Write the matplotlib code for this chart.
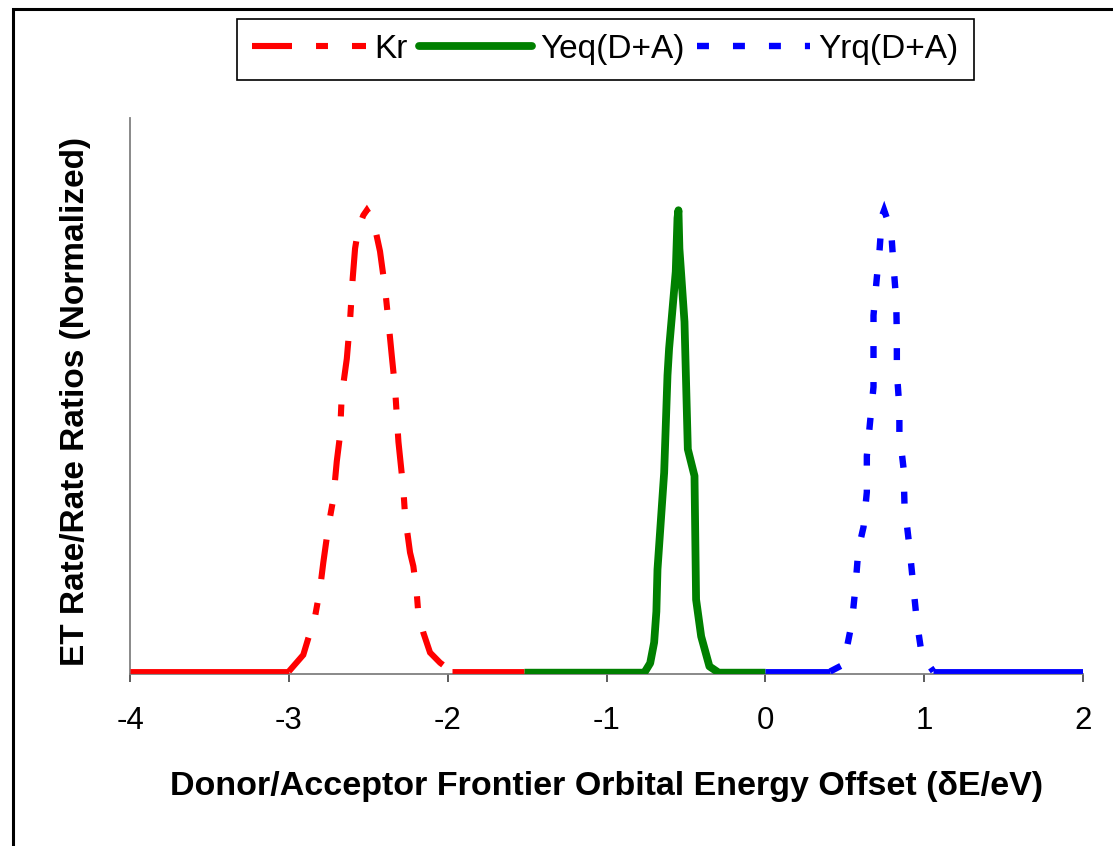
import matplotlib
matplotlib.use("Agg")
import matplotlib.pyplot as plt
from matplotlib.lines import Line2D
from matplotlib.patches import Rectangle

plt.rcParams['font.family'] = ['Liberation Sans', 'DejaVu Sans']
plt.rcParams['axes.unicode_minus'] = False
plt.rcParams['lines.scale_dashes'] = False

# ---- data (energy offset in eV, normalized rate) ----
kr_x = [-4.0, -3.0, -2.909, -2.867, -2.835, -2.804, -2.783, -2.751, -2.720, -2.698,
        -2.678, -2.667, -2.635, -2.615, -2.598, -2.583, -2.562, -2.531, -2.509,
        -2.468, -2.426, -2.394, -2.373, -2.352, -2.331, -2.310, -2.279, -2.268,
        -2.237, -2.216, -2.195, -2.185, -2.153, -2.111, -2.048, -1.974, -1.52]
kr_y = [0.0, 0.0, 0.036, 0.084, 0.119, 0.178, 0.236, 0.315, 0.374, 0.456,
        0.511, 0.598, 0.678, 0.759, 0.852, 0.917, 0.961, 0.989, 1.0,
        0.978, 0.911, 0.830, 0.759, 0.685, 0.613, 0.498, 0.395, 0.337,
        0.258, 0.228, 0.171, 0.127, 0.084, 0.041, 0.019, 0.0, 0.0]

yeq_x = [-1.52, -0.757, -0.725, -0.700, -0.686, -0.679, -0.637, -0.616, -0.606,
         -0.564, -0.553, -0.547, -0.541, -0.509, -0.488, -0.446, -0.436, -0.404,
         -0.352, -0.305, 0.0]
yeq_y = [0.0, 0.0, 0.018, 0.063, 0.130, 0.221, 0.431, 0.642, 0.700,
         0.867, 0.983, 1.0, 0.917, 0.758, 0.482, 0.424, 0.156, 0.076,
         0.011, 0.0, 0.0]

yrq_x = [0.0, 0.408, 0.492, 0.545, 0.566, 0.586, 0.618, 0.639, 0.639, 0.660,
         0.681, 0.681, 0.702, 0.719, 0.734, 0.748, 0.792, 0.807, 0.824, 0.828,
         0.828, 0.844, 0.844, 0.870, 0.876, 0.907, 0.932, 0.954, 0.985, 1.058, 2.0]
yrq_y = [0.0, 0.0, 0.015, 0.106, 0.178, 0.265, 0.313, 0.389, 0.467, 0.543,
         0.617, 0.772, 0.854, 0.913, 0.987, 1.0, 0.956, 0.880, 0.804, 0.728,
         0.650, 0.571, 0.519, 0.441, 0.363, 0.271, 0.184, 0.108, 0.036, 0.0, 0.0]

series_labels = ['Kr', 'Yeq(D+A)', 'Yrq(D+A)']
x_ticks = [-4, -3, -2, -1, 0, 1, 2]
x_tick_labels = ['-4', '-3', '-2', '-1', '0', '1', '2']

W, H = 1113, 846
fig = plt.figure(figsize=(W / 100, H / 100), dpi=100)
fig.patch.set_facecolor('white')

ax = fig.add_axes([130 / W, 1 - 674 / H, (1083 - 130) / W, (674 - 118) / H])
ax.set_xlim(-4, 2)
ax.set_ylim(-0.0055, 1.2)


def runs(x, y):
    """Split a polyline into consecutive runs lying on the baseline / off it."""
    out = []
    start = 0
    flag = None
    for k in range(len(x) - 1):
        f = (y[k] == 0 and y[k + 1] == 0)
        if flag is None:
            flag = f
        elif f != flag:
            out.append((flag, x[start:k + 1], y[start:k + 1]))
            start = k
            flag = f
    out.append((flag, x[start:], y[start:]))
    return out


def draw(x, y, color, lw, flat_lw, dashes=None, z=3):
    for flat, xs, ys in runs(x, y):
        if flat:
            ax.plot(xs, ys, color=color, lw=flat_lw, solid_capstyle='butt', zorder=z)
        elif dashes is None:
            ax.plot(xs, ys, color=color, lw=lw, solid_capstyle='round',
                    solid_joinstyle='round', zorder=z)
        else:
            ax.plot(xs, ys, color=color, lw=lw, dashes=dashes,
                    dash_capstyle='butt', dash_joinstyle='miter', zorder=z)


red_dash = (28.8, 17.3, 8.6, 17.3)
blue_dash = (8.6, 17.3)

draw(kr_x, kr_y, '#FF0000', 4.4, 3.5, red_dash, z=3)
draw(yeq_x, yeq_y, '#008000', 5.6, 3.9, None, z=4)
draw(yrq_x, yrq_y, '#0000FF', 4.6, 3.5, blue_dash, z=5)

# axes styling
for s in ['top', 'right']:
    ax.spines[s].set_visible(False)
for s in ['left', 'bottom']:
    ax.spines[s].set_color('#808080')
    ax.spines[s].set_linewidth(1.3)
ax.set_yticks([])
ax.set_xticks(x_ticks)
ax.set_xticklabels(x_tick_labels)
ax.tick_params(axis='x', direction='out', length=6, width=1.1, color='#303030',
               labelsize=22.5, pad=17)

fig.text(607 / W, 1 - 786 / H, 'Donor/Acceptor Frontier Orbital Energy Offset (\u03b4E/eV)',
         ha='center', va='center', fontsize=24.5, fontweight='bold')
fig.text(76 / W, 1 - 402 / H, 'ET Rate/Rate Ratios (Normalized)',
         ha='center', va='center', rotation=90, fontsize=24, fontweight='bold')

handles = [
    Line2D([], [], color='#FF0000', lw=4.4, dashes=red_dash, dash_capstyle='butt'),
    Line2D([], [], color='#008000', lw=5.6, solid_capstyle='round'),
    Line2D([], [], color='#0000FF', lw=4.6, dashes=blue_dash, dash_capstyle='butt'),
]
leg = fig.legend(handles, series_labels, loc='center', ncol=3,
                 bbox_to_anchor=(605.5 / W, 1 - 49.5 / H), bbox_transform=fig.transFigure,
                 fontsize=24, frameon=True, fancybox=False, framealpha=1,
                 handlelength=3.4, handletextpad=0.25, columnspacing=0.35,
                 borderpad=0.45, borderaxespad=0)
leg.get_frame().set_edgecolor('black')
leg.get_frame().set_linewidth(1.2)

# outer chart border (runs off the right and bottom edges)
fig.patches.append(Rectangle((12.5 / W, -0.2), 1.5, 1.2 - 9.5 / H, transform=fig.transFigure,
                             fill=False, edgecolor='black', lw=2.2, clip_on=False))

fig.savefig('out.png', dpi=100, facecolor='white')
